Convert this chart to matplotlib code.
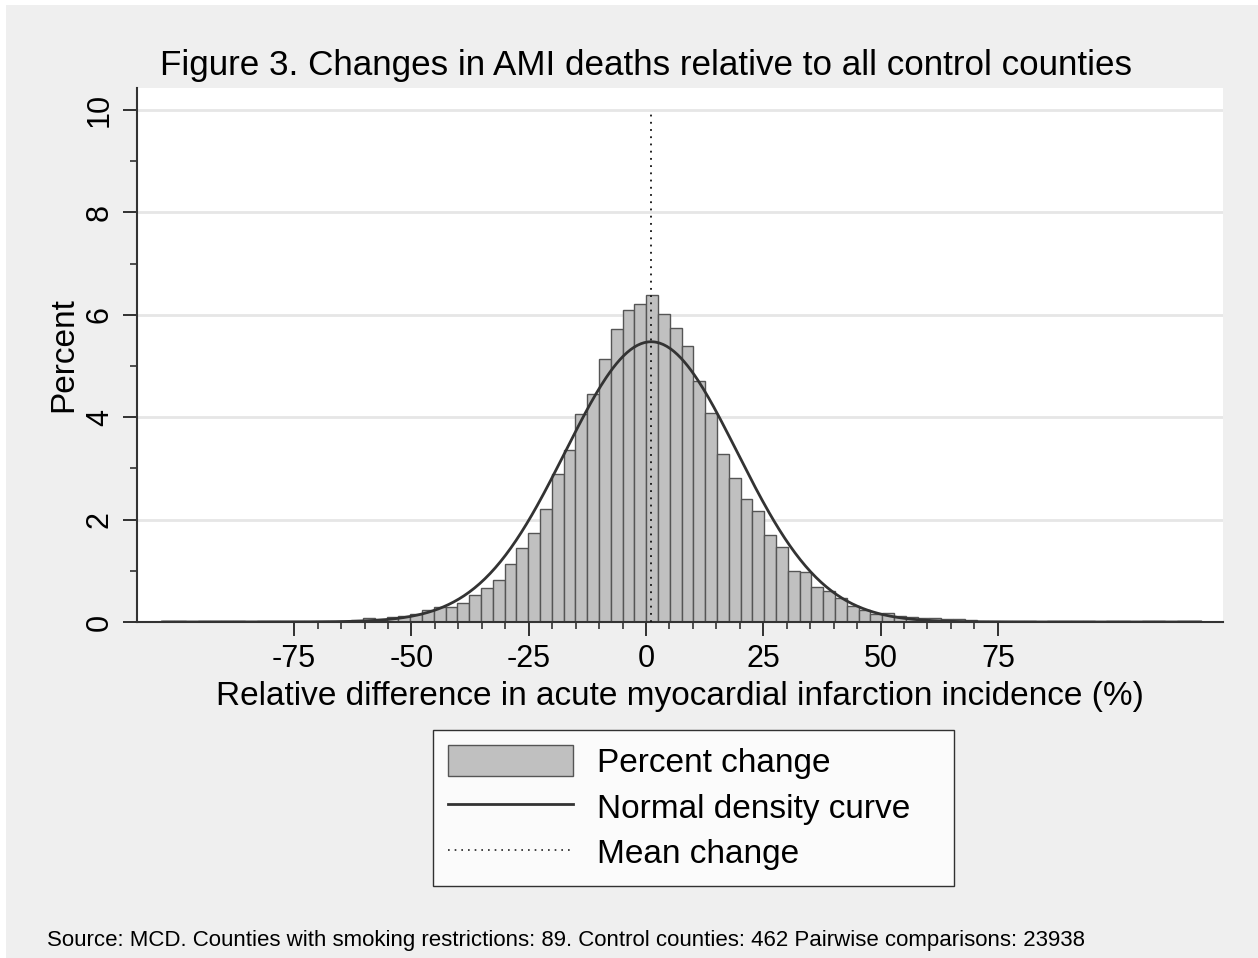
import numpy as np
import matplotlib
matplotlib.use("Agg")
import matplotlib.pyplot as plt
from matplotlib.patches import Rectangle, Patch
from matplotlib.lines import Line2D
from matplotlib.ticker import FixedLocator

plt.rcParams['font.family'] = ['Liberation Sans', 'DejaVu Sans']

# ---- data ----
bin_start = -103.07
bin_width = 2.515
percent = [
    0.01, 0.01, 0.00, 0.01, 0.01, 0.01, 0.01, 0.00, 0.01, 0.01,   # k0-9
    0.01, 0.01, 0.01, 0.01, 0.01, 0.01, 0.035, 0.075, 0.055, 0.09,  # k10-19
    0.12, 0.15, 0.24, 0.30, 0.30, 0.38, 0.53, 0.67, 0.82, 1.13,   # k20-29
    1.44, 1.73, 2.20, 2.89, 3.36, 4.06, 4.45, 5.13, 5.72, 6.09,   # k30-39
    6.22, 6.38, 6.01, 5.75, 5.40, 4.71, 4.09, 3.29, 2.81, 2.40,   # k40-49
    2.17, 1.70, 1.47, 1.00, 0.98, 0.68, 0.61, 0.47, 0.32, 0.24,   # k50-59
    0.16, 0.18, 0.12, 0.10, 0.08, 0.08, 0.05, 0.05, 0.03, 0.02,   # k60-69
    0.02, 0.01, 0.01, 0.01, 0.00, 0.01, 0.01, 0.01, 0.01, 0.00,   # k70-79
    0.01, 0.01, 0.00, 0.01, 0.01, 0.00, 0.01, 0.01,               # k80-87
]
mean_change = 1.1
sd_change = 18.33
x_ticks = [-75, -50, -25, 0, 25, 50, 75]
y_ticks = [0, 2, 4, 6, 8, 10]

title = "Figure 3. Changes in AMI deaths relative to all control counties"
xlabel = "Relative difference in acute myocardial infarction incidence (%)"
ylabel = "Percent"
legend_labels = ["Percent change", "Normal density curve", "Mean change"]
source = ("Source: MCD. Counties with smoking restrictions: 89. Control counties: 462 "
          "Pairwise comparisons: 23938")

# ---- figure ----
W, H = 1258, 958
fig = plt.figure(figsize=(W / 100, H / 100), dpi=100)
fig.patch.set_facecolor('white')
fig.add_artist(Rectangle((6 / W, 0), 1 - 6 / W, 1 - 5 / H, transform=fig.transFigure,
                         facecolor='#efefef', edgecolor='none', zorder=0))

ax = fig.add_axes([137 / W, 1 - 622 / H, (1223 - 137) / W, (622 - 88) / H])
ax.set_facecolor('white')

edges = bin_start + bin_width * np.arange(len(percent) + 1)
ax.bar(edges[:-1], percent, width=bin_width, align='edge',
       color='#c0c0c0', edgecolor='#555555', linewidth=1.0, zorder=2)

xs = np.linspace(edges[0], edges[-1], 600)
dens = 100 * bin_width * np.exp(-0.5 * ((xs - mean_change) / sd_change) ** 2) / (sd_change * np.sqrt(2 * np.pi))
ax.plot(xs, dens, color='#333333', linewidth=2.0, zorder=3)

ax.plot([mean_change, mean_change], [0, 10], color='#111111', linestyle=(0, (1, 3)),
        linewidth=1.3, zorder=4)

ax.set_xlim(-108.5, 123.0)
ax.set_ylim(0, 10.43)

ax.set_yticks(y_ticks)
ax.yaxis.set_minor_locator(FixedLocator([1, 3, 5, 7, 9]))
ax.set_xticks(x_ticks)
ax.xaxis.set_minor_locator(FixedLocator([v for v in range(-70, 75, 5) if v % 25 != 0]))
ax.set_xticklabels([str(v) for v in x_ticks])
ax.set_yticklabels([str(v) for v in y_ticks], rotation=90, va='center')

ax.grid(axis='y', color='#e6e6e6', linewidth=2.0, zorder=0)
ax.set_axisbelow(True)
for s in ['top', 'right']:
    ax.spines[s].set_visible(False)
for s in ['left', 'bottom']:
    ax.spines[s].set_color('#333333')
    ax.spines[s].set_linewidth(1.5)

ax.tick_params(axis='both', which='major', length=10, width=1.3, color='#222222',
               labelsize=22, pad=6)
ax.tick_params(axis='both', which='minor', length=5, width=1.1, color='#222222')

ax.set_xlabel(xlabel, fontsize=24, labelpad=5)
ax.set_ylabel(ylabel, fontsize=24, labelpad=4)

fig.text(160 / W, 1 - 75 / H, title, fontsize=25.2, va='baseline', ha='left')

handles = [Patch(facecolor='#c0c0c0', edgecolor='#555555', linewidth=1.0),
           Line2D([], [], color='#333333', linewidth=2.0),
           Line2D([], [], color='#222222', linestyle=(0, (1, 3)), linewidth=1.2)]
leg = fig.legend(handles, legend_labels, loc='upper left',
                 bbox_to_anchor=(433 / W, 1 - 884 / H, (954 - 433) / W, 154 / H),
                 mode='expand', borderaxespad=0,
                 fontsize=24, frameon=True, fancybox=False, edgecolor='black',
                 handlelength=3.75, handleheight=1.05, handletextpad=0.72,
                 labelspacing=0.36, borderpad=0.45)
leg.get_frame().set_linewidth(1.0)
leg.get_frame().set_facecolor('white')

fig.text(47 / W, 1 - 946 / H, source, fontsize=16.0, va='baseline', ha='left')

fig.savefig('out.png', dpi=100)
